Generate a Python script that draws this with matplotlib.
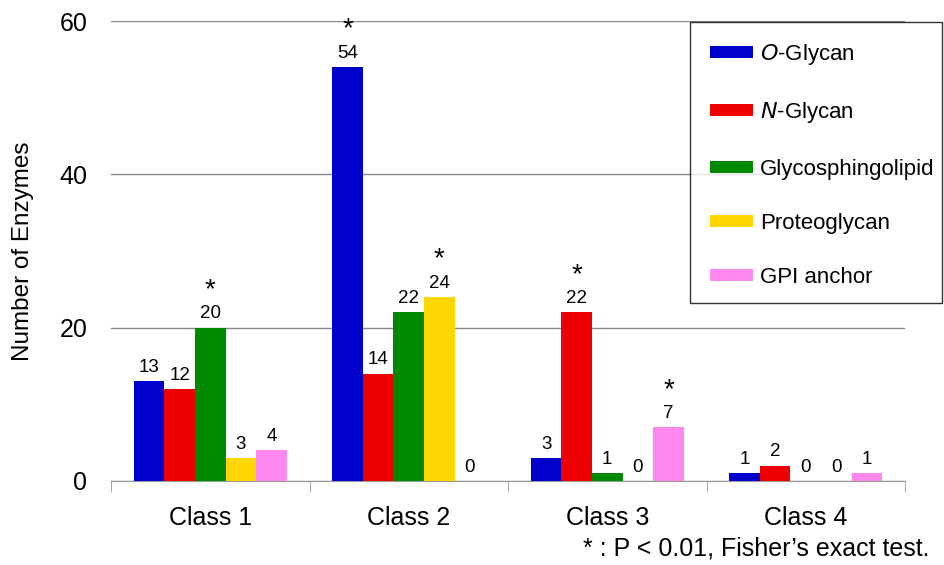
import numpy as np
import matplotlib.pyplot as plt
from matplotlib.patches import Patch
from matplotlib.path import Path

plt.rcParams['font.family'] = ['Liberation Sans', 'DejaVu Sans']

# data
classes = ['Class 1', 'Class 2', 'Class 3', 'Class 4']
series = ['$\\it{O}$-Glycan', '$\\it{N}$-Glycan', 'Glycosphingolipid', 'Proteoglycan', 'GPI anchor']
o_glycan = [13, 54, 3, 1]
n_glycan = [12, 14, 22, 2]
glycosphingolipid = [20, 22, 1, 0]
proteoglycan = [3, 24, 0, 0]
gpi_anchor = [4, 0, 7, 1]
# significant (P < 0.01): (series index, class index)
significant = [(2, 0), (0, 1), (3, 1), (1, 2), (4, 2)]

colors = ['#0000cc', '#ee0000', '#008800', '#ffd700', '#ff88ee']
values = [o_glycan, n_glycan, glycosphingolipid, proteoglycan, gpi_anchor]

fig = plt.figure(figsize=(9.44, 5.65), dpi=100)
ax = fig.add_axes([0.1176, 0.1487, 0.8411, 0.8141])

x = np.arange(len(classes))
w = 0.154
for i, vals in enumerate(values):
    pos = x + (i - 2) * w
    ax.bar(pos, vals, width=w, color=colors[i], zorder=3)
    for j, v in enumerate(vals):
        ax.text(pos[j], v + 0.7, str(v), ha='center', va='bottom', fontsize=13.5)
        if (i, j) in significant:
            ax.text(pos[j], v + 3.2, '*', ha='center', va='bottom', fontsize=20)

ax.set_xlim(-0.5, 3.5)
ax.set_ylim(0, 60)
ax.set_yticks([0, 20, 40, 60])
ax.tick_params(axis='y', length=0, labelsize=18, pad=17)
ax.set_xticks(x)
ax.set_xticklabels(classes, fontsize=18)
ax.tick_params(axis='x', length=0, pad=18)
ax.set_xticks([-0.5, 0.5, 1.5, 2.5, 3.5], minor=True)
ax.tick_params(axis='x', which='minor', length=8, color='#999999', direction='out')
ax.yaxis.grid(True, color='#888888', linewidth=1, zorder=0)
for s in ['left', 'right', 'top']:
    ax.spines[s].set_visible(False)
ax.spines['bottom'].set_color('#999999')
ax.set_ylabel('Number of Enzymes', fontsize=17.5, labelpad=18)


# legend frame with wider left / vertical padding than right (pixels)
def legend_box(x0, y0, width, height, mutation_size):
    l, r, t, b = 20, 7, 20, 15
    xa, ya = x0 - l, y0 - b
    xb, yb = x0 + width + r, y0 + height + t
    return Path([(xa, ya), (xb, ya), (xb, yb), (xa, yb), (xa, ya)], closed=True)


handles = [Patch(facecolor=c) for c in colors]
leg = fig.legend(handles, series, loc='upper left', bbox_to_anchor=(710 / 944, 1 - 42 / 565),
                 fontsize=16, frameon=True, fancybox=False, edgecolor='black',
                 handlelength=1.94, handleheight=0.45, labelspacing=1.5, borderpad=0,
                 borderaxespad=0, handletextpad=0.32)
leg.get_frame().set_boxstyle(legend_box)
leg.get_frame().set_linewidth(1)

fig.text(0.985, 0.03, '* : P < 0.01, Fisher\u2019s exact test.', ha='right', va='center', fontsize=18)

plt.savefig('out.png', dpi=100)
